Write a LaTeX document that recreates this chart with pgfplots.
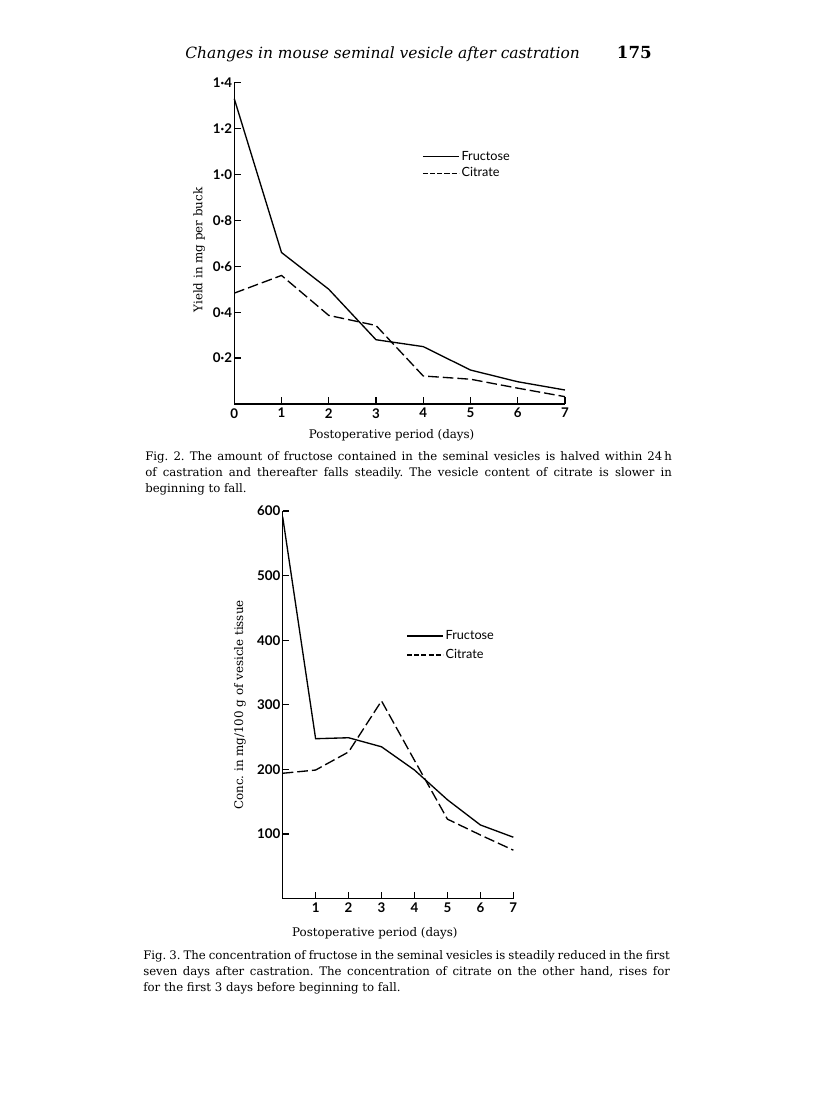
\documentclass[border=0pt]{standalone}
\usepackage{fontspec}
\setmainfont{DejaVu Serif}
\newfontfamily\gill{Lato}
\usepackage{graphicx}
\usepackage{pgfplots}
\pgfplotsset{compat=1.18}
\frenchspacing

% page is 816 x 1107 px, 1 px = 0.75pt
\pgfplotsset{
  scan/.style={
    scale only axis,
    axis lines=left,
    axis line style={-, line width=1pt, black},
    tick align=inside,
    major tick length=5pt,
    tick style={line width=1pt, black},
    xmin=0, xmax=7, ymin=0,
    ticklabel style={font=\gill\bfseries\fontsize{10}{11}\selectfont, inner sep=1.5pt},
    xticklabel style={inner sep=3pt},
    label style={font=\fontsize{8.9}{10}\selectfont},
    legend style={draw=none, fill=none, inner sep=0pt, row sep=1pt,
      font=\gill\fontsize{9.5}{10}\selectfont, nodes={inner sep=1.5pt}},
    legend cell align=left,
    legend image code/.code={\draw[#1] (0pt,0pt) -- (27pt,0pt);},
    clip=false,
  },
  frx/.style={black, line width=1pt, no marks},
  cit/.style={black, line width=1pt, no marks, dash pattern=on 8pt off 3pt},
  citleg/.style={black, line width=0.9pt, dash pattern=on 3.8pt off 1.6pt},
}

\begin{document}
\begin{tikzpicture}
\fill[white] (0,0) rectangle (612pt,830.25pt);

% running head
\node[anchor=base west, inner sep=0] at (138.75pt,786pt)
  {\resizebox{296pt}{!}{\itshape Changes in mouse seminal vesicle after castration}};
\node[anchor=base east, inner sep=0] at (489pt,786pt)
  {\fontsize{12.5}{14}\selectfont\bfseries 175};

% Fig. 2
\begin{axis}[scan,
  at={(175.7pt,527.25pt)}, anchor=south west,
  width=248pt, height=241pt,
  ymax=1.4,
  xtick={0,1,2,3,4,5,6,7},
  xticklabels={0,1,2,3,4,5,6,7},
  ytick={0.2,0.4,0.6,0.8,1.0,1.2,1.4},
  yticklabels={0·2,0·4,0·6,0·8,1·0,1·2,1·4},
  xlabel={Postoperative period (days)},
  xlabel style={at={(axis description cs:0.476,-0.0965)}, anchor=center},
  ylabel={Yield in mg per buck},
  ylabel style={at={(axis description cs:-0.106,0.479)}, anchor=center},
  legend style={at={(axis description cs:0.5676,0.794)}, anchor=north west},
]
\addplot[frx, forget plot] coordinates {(0,1.33) (1,0.66) (2,0.50) (3,0.28) (4,0.25) (5,0.148) (6,0.097) (7,0.061)};
\addplot[cit, forget plot] coordinates {(0,0.483) (1,0.56) (2,0.386) (3,0.342) (4,0.122) (5,0.108) (6,0.069) (7,0.032)};
\addlegendimage{frx}
\addlegendentry{Fructose}
\addlegendimage{citleg}
\addlegendentry{Citrate}
\end{axis}

\node[anchor=north west, inner sep=0, text width=395pt, align=justify,
  font=\fontsize{8.8}{12}\selectfont] at (108.75pt,492pt)
  {Fig. 2. The amount of fructose contained in the seminal vesicles is halved within 24\,h\linebreak
   of castration and thereafter falls steadily. The vesicle content of citrate is slower in\linebreak
   beginning to fall.};

% Fig. 3
\begin{axis}[scan,
  at={(212.0pt,156.3pt)}, anchor=south west,
  width=173pt, height=290.7pt,
  ymax=600,
  xtick={1,2,3,4,5,6,7},
  xticklabels={1,2,3,4,5,6,7},
  ytick={100,200,300,400,500,600},
  yticklabels={100,200,300,400,500,600},
  xlabel={Postoperative period (days)},
  xlabel style={at={(axis description cs:0.40,-0.089)}, anchor=center},
  ylabel={Conc. in mg/100 g of vesicle tissue},
  ylabel style={at={(axis description cs:-0.185,0.4995)}, anchor=center},
  legend style={at={(axis description cs:0.535,0.698)}, anchor=north west, row sep=3pt},
]
\addplot[frx, forget plot] coordinates {(0,591) (1,247.5) (2,249) (3,235) (4,199) (5,153) (6,114) (7,95)};
\addplot[cit, forget plot] coordinates {(0,194) (1,199) (2,227) (3,306) (4,214) (5,123) (6,98.5) (7,75)};
\addlegendimage{frx}
\addlegendentry{Fructose}
\addlegendimage{citleg}
\addlegendentry{Citrate}
\end{axis}

\node[anchor=north west, inner sep=0, text width=395pt, align=justify,
  font=\fontsize{8.8}{12}\selectfont] at (107.25pt,117.75pt)
  {Fig. 3. The concentration of fructose in the seminal vesicles is steadily reduced in the first\linebreak
   seven days after castration. The concentration of citrate on the other hand, rises for\linebreak
   for the first 3 days before beginning to fall.};
\end{tikzpicture}
\end{document}
